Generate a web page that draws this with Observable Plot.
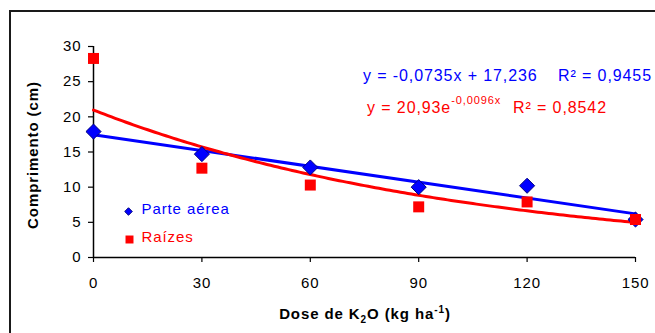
<!DOCTYPE html>
<html><head><meta charset="utf-8">
<script src="https://cdn.jsdelivr.net/npm/d3@7"></script>
<script src="https://cdn.jsdelivr.net/npm/@observablehq/plot@0.6"></script>
<style>
body{margin:0;background:#fff;}
#wrap{position:relative;width:655px;height:333px;overflow:hidden;}
#frame{position:absolute;left:9px;top:10px;width:700px;height:400px;border-top:2px solid #1a1a1a;border-left:2px solid #1a1a1a;pointer-events:none;}
#wrap svg{position:absolute;left:0;top:0;font-family:"Liberation Sans",Arial,sans-serif;}
</style></head><body><div id="wrap"><div id="frame"></div></div>
<script>
const doses=[0,30,60,90,120,150];
const parteAerea=[17.9,14.7,12.8,10.0,10.2,5.4];
const raizes=[28.3,12.7,10.3,7.2,7.9,5.4];
const xTicks=[0,30,60,90,120,150];
const yTicks=[0,5,10,15,20,25,30];
const seriesNames=["Parte aérea","Raízes"];
const seriesColors=["#0000FF","#FF0000"];
const eqLinear=["y = -0,0735x + 17,236","R² = 0,9455"];
const eqExp=["y = 20,93e","-0,0096x","R² = 0,8542"];
const xTitle=["Dose de K","2","O (kg ha","-1",")"];
const yTitle="Comprimento (cm)";

const aerea=doses.map((d,i)=>({dose:d,v:parteAerea[i]}));
const raiz=doses.map((d,i)=>({dose:d,v:raizes[i]}));
// exponential trend (least squares on log values)
const ly=raizes.map(Math.log);
const mx=d3.mean(doses), my=d3.mean(ly);
const b=d3.sum(doses,(x,i)=>(x-mx)*(ly[i]-my))/d3.sum(doses,x=>(x-mx)**2);
const a=Math.exp(my-b*mx);
const curve=d3.range(0,151,1).map(x=>({dose:x,v:a*Math.exp(b*x)}));

const font='"Liberation Sans",Arial,sans-serif';
const chart=Plot.plot({
  width:655,height:333,
  marginLeft:93,marginRight:20,marginTop:46,marginBottom:76,
  style:{fontFamily:font,fontSize:"15px",letterSpacing:"0.06em",background:"transparent",color:"#000"},
  x:{domain:[0,150]},
  y:{domain:[0,30]},
  marks:[
    Plot.axisY({ticks:yTicks,tickSize:5,tickPadding:7,fontSize:15,label:null,strokeWidth:1.2}),
    Plot.axisX({ticks:xTicks,tickSize:5,tickPadding:15,fontSize:15,label:null,strokeWidth:1.2}),
    Plot.ruleX([0],{stroke:"#000",strokeWidth:1.5}),
    Plot.ruleY([0],{stroke:"#000",strokeWidth:1.5}),
    Plot.linearRegressionY(aerea,{x:"dose",y:"v",stroke:seriesColors[0],strokeWidth:3,ci:0}),
    Plot.line(curve,{x:"dose",y:"v",stroke:seriesColors[1],strokeWidth:3}),
    Plot.dot(aerea,{x:"dose",y:"v",symbol:"diamond2",r:6.8,fill:seriesColors[0],stroke:"#000080",strokeWidth:1}),
    Plot.dot(raiz,{x:"dose",y:"v",symbol:"square",r:6.2,fill:seriesColors[1]}),
    Plot.dot([seriesNames[0]],{frameAnchor:"bottom-left",dx:35,dy:-46,symbol:"diamond2",r:3.4,fill:seriesColors[0],stroke:"#000080",strokeWidth:1}),
    Plot.dot([seriesNames[1]],{frameAnchor:"bottom-left",dx:36,dy:-18,symbol:"square",r:4.5,fill:seriesColors[1]}),
    Plot.text([seriesNames[0]],{text:d=>d,frameAnchor:"bottom-left",dx:48,dy:-44,textAnchor:"start",fill:seriesColors[0],fontSize:15}),
    Plot.text([seriesNames[1]],{text:d=>d,frameAnchor:"bottom-left",dx:48,dy:-16,textAnchor:"start",fill:seriesColors[1],fontSize:15})
  ]
});
document.getElementById("wrap").insertBefore(chart,document.getElementById("frame"));
const svg=d3.select(chart);
const g=svg.append("g").attr("font-family",font).attr("text-anchor","start").style("letter-spacing","0.06em");
// equations
g.append("text").attr("x",363).attr("y",81).attr("font-size",16).attr("fill",seriesColors[0]).text(eqLinear[0]);
g.append("text").attr("x",558).attr("y",81).attr("font-size",16).attr("fill",seriesColors[0]).text(eqLinear[1]);
const t2=g.append("text").attr("x",367).attr("y",112.5).attr("font-size",16).attr("fill",seriesColors[1]);
t2.append("tspan").text(eqExp[0]);
t2.append("tspan").attr("font-size",11).attr("dy",-9).text(eqExp[1]);
g.append("text").attr("x",513).attr("y",112.5).attr("font-size",16).attr("fill",seriesColors[1]).text(eqExp[2]);
// axis titles
const xt=g.append("text").attr("x",365).attr("y",319).attr("text-anchor","middle").attr("font-size",15).attr("font-weight","bold").attr("fill","#000");
xt.append("tspan").text(xTitle[0]);
xt.append("tspan").attr("font-size",10).attr("dy",4).text(xTitle[1]);
xt.append("tspan").attr("dy",-4).text(xTitle[2]);
xt.append("tspan").attr("font-size",10).attr("dy",-6).text(xTitle[3]);
xt.append("tspan").attr("dy",6).text(xTitle[4]);
g.append("text").attr("transform","translate(33,155) rotate(-90)").attr("text-anchor","middle").attr("dy","0.35em").attr("font-size",15).attr("font-weight","bold").attr("fill","#000").text(yTitle);
</script></body></html>
